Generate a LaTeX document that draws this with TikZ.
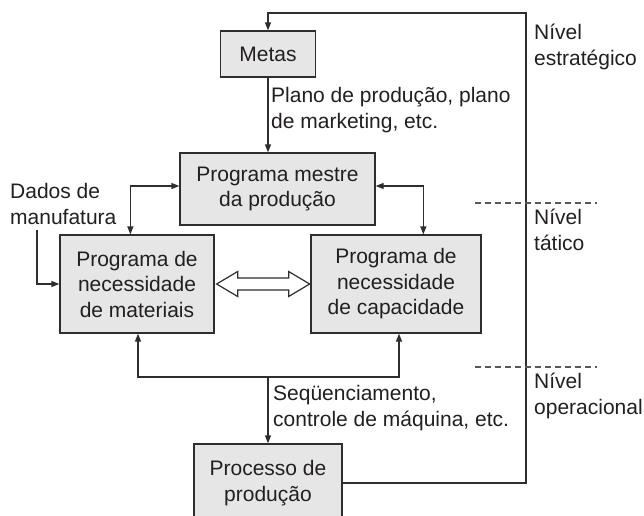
\documentclass[tikz,border=0pt]{standalone}
\usepackage{fontspec}
\setmainfont{Liberation Sans}
\usetikzlibrary{arrows.meta,calc}
\definecolor{txt}{HTML}{231F20}
\definecolor{ln}{HTML}{2E2E2E}
\definecolor{boxfill}{HTML}{E6E6E7}
\begin{document}
\begin{tikzpicture}[x=1pt,y=-1pt,
  every node/.style={text=txt,font=\fontsize{21}{25.5}\selectfont},
  box/.style={draw=ln,line width=1.3pt,fill=boxfill,align=center,inner sep=0pt},
  lbl/.style={align=left,inner sep=0pt,anchor=west},
  conn/.style={draw=ln,line width=1.3pt,-{Triangle[length=8pt,width=6pt]}},
  bconn/.style={draw=ln,line width=1.3pt,{Triangle[length=8pt,width=6pt]}-{Triangle[length=8pt,width=6pt]}},
  plain/.style={draw=ln,line width=1.3pt},
  lvl/.style={draw=ln!80,line width=1.2pt,dash pattern=on 6pt off 4pt}]
\path[use as bounding box] (0,0) rectangle (644,515);
\clip (0,0) rectangle (644,515);
\fill[white] (0,0) rectangle (644,515);

\node[box,minimum width=95pt,minimum height=46pt] (metas) at (268,54) {Metas};
\node[box,minimum width=195pt,minimum height=72pt] (mestre) at (277.5,189) {Programa mestre\\da produção};
\node[box,minimum width=154pt,minimum height=98pt] (mat) at (137,284) {Programa de\\necessidade\\de materiais};
\node[box,minimum width=170pt,minimum height=98pt] (cap) at (396,284) {Programa de\\necessidade\\de capacidade};
\node[box,minimum width=148pt,minimum height=78pt] (proc) at (268,483) {Processo de\\produção};

\node[lbl] (plano) at (271,110) {Plano de produção, plano\\de marketing, etc.};
\node[lbl] (dados) at (10,204) {Dados de\\manufatura};
\node[lbl] (seq) at (273,408) {Seqüenciamento,\\controle de máquina, etc.};
\node[lbl] (estr) at (534,47) {Nível\\estratégico};
\node[lbl] (tat) at (534,230) {Nível\\tático};
\node[lbl] (oper) at (534,396) {Nível\\operacional};

\coordinate (fb) at (526,13);
\coordinate (d0) at (37,230);
\coordinate (j) at (268,377);

\draw[conn] (metas.south) -- (metas.south |- mestre.north);
\draw[conn] (proc.east) -| (fb) -| (metas.north);
\draw[bconn] ($(mestre.west)+(0,-3)$) -| ($(mat.north west)+(71,0)$);
\draw[bconn] ($(mestre.east)+(0,-3)$) -| ($(cap.north west)+(113,0)$);
\draw[conn] (d0) |- (mat.west);
\draw[bconn] ($(mat.south)+(1,0)$) |- (j) -| ($(cap.south)+(3,0)$);
\draw[conn] (j) -- (proc.north);

\draw[draw=ln,line width=1.2pt,fill=white] ($(mat.east)+(2,0)$) -- ++(21,-12.5) -- ++(0,6.5) -- ++(51,0) -- ++(0,-6.5) -- ++(21,12.5) -- ++(-21,12.5) -- ++(0,-6.5) -- ++(-51,0) -- ++(0,6.5) -- cycle;

\draw[lvl] (475,203) -- (597,203);
\draw[lvl] (475,367) -- (597,367);
\end{tikzpicture}
\end{document}
